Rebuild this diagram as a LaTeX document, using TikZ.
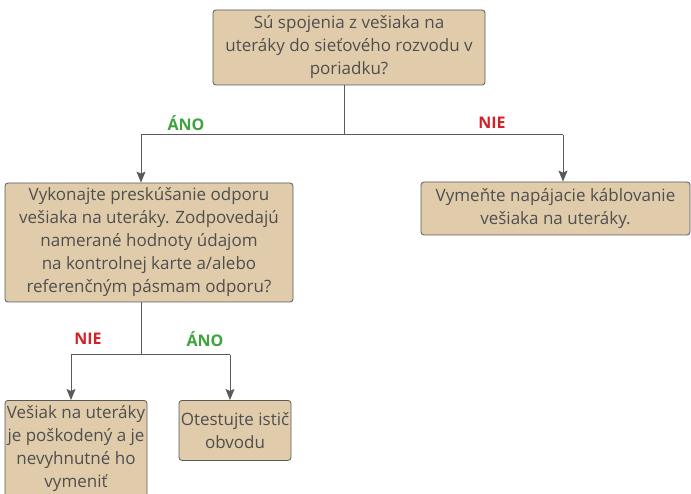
\documentclass[tikz,border=0pt]{standalone}
\usepackage{fontspec}
\setmainfont{Open Sans}
\usetikzlibrary{arrows.meta}
\definecolor{boxfill}{HTML}{E0CCAA}
\definecolor{boxline}{HTML}{5A5A5A}
\definecolor{txtgrey}{HTML}{4F4F4F}
\definecolor{yesgreen}{HTML}{3DA33D}
\definecolor{nored}{HTML}{D42027}
\tikzset{
  qbox/.style={draw=boxline, fill=boxfill, rounded corners=3pt, line width=0.8pt,
    text=txtgrey, align=center, font=\fontsize{17}{23}\selectfont, inner sep=0pt},
  link/.style={draw=boxline, line width=1pt},
  arr/.style={link, -{Stealth[length=11pt,width=9pt,inset=2pt]}},
  yeslbl/.style={text=yesgreen, font=\fontsize{16}{18}\selectfont\bfseries},
  nolbl/.style={text=nored, font=\fontsize{16}{18}\selectfont\bfseries}
}
\begin{document}
\begin{tikzpicture}[x=1pt,y=-1pt]
\useasboundingbox (0,0) rectangle (691,494);
\clip (0,0) rectangle (691,494);
% question 1
\node[qbox, minimum width=272pt, minimum height=75pt] (q1) at (349,47.5)
  {Sú spojenia z vešiaka na\\uteráky do sieťového rozvodu v\\poriadku?};
\coordinate (j1) at (344,135);
\coordinate (l1) at (141,135);
\coordinate (r1) at (563,135);
% answers of question 1
\node[qbox, minimum width=288pt, minimum height=119pt] (q2) at (149,242.5)
  {Vykonajte preskúšanie odporu\\vešiaka na uteráky. Zodpovedajú\\namerané hodnoty údajom\\na kontrolnej karte a/alebo\\referenčným pásmam odporu?};
\node[qbox, minimum width=269pt, minimum height=53pt] (a1) at (555.5,208.5)
  {Vymeňte napájacie káblovanie\\vešiaka na uteráky.};
\draw[link] (q1.south -| j1)--(j1);
\draw[link] (l1)--(r1);
\draw[arr] (l1)--(l1 |- q2.north);
\draw[arr] (r1)--(r1 |- a1.north);
\node[yeslbl] (y1) at (186,123) {ÁNO};
\node[nolbl] (n1) at (492,123) {NIE};
% answers of question 2
\coordinate (l2) at (71,355);
\coordinate (r2) at (230,355);
\node[qbox, minimum width=142pt, minimum height=97pt, anchor=north] (a2) at (76,400)
  {Vešiak na uteráky\\je poškodený a je\\nevyhnutné ho\\vymeniť};
\node[qbox, minimum width=112pt, minimum height=60pt, anchor=north] (a3) at (235,400)
  {Otestujte istič\\obvodu};
\draw[link] (q2.south -| 141,0)--(141,355);
\draw[link] (l2)--(r2);
\draw[arr] (l2)--(l2 |- a2.north);
\draw[arr] (r2)--(r2 |- a3.north);
\node[nolbl] (n2) at (88,339) {NIE};
\node[yeslbl] (y2) at (205,339) {ÁNO};
\end{tikzpicture}
\end{document}
